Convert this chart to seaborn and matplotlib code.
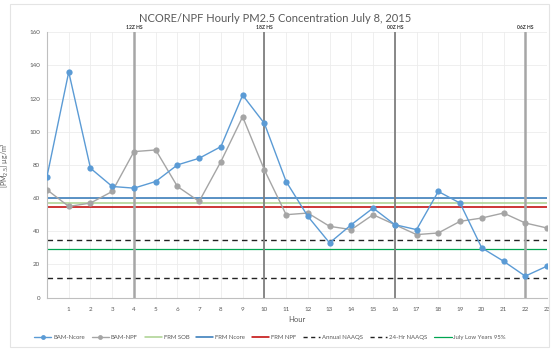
import matplotlib
matplotlib.use("Agg")
import matplotlib.pyplot as plt
from matplotlib.lines import Line2D
from matplotlib.patches import Rectangle
import seaborn as sns
import pandas as pd

# Hourly data, July 8 2015
hours = list(range(24))
bam_ncore = [73, 136, 78, 67, 66, 70, 80, 84, 91, 122, 105, 70,
             49, 33, 44, 54, 44, 41, 64, 57, 30, 22, 13, 19]
bam_npf = [65, 55, 57, 64, 88, 89, 67, 58, 82, 109, 77, 50,
           51, 43, 41, 50, 44, 38, 39, 46, 48, 51, 45, 42]

# Reference levels
frm_sob = 57.2
frm_ncore = 60.0
frm_npf = 54.5
annual_naaqs = 12
naaqs_24hr = 35
july_low_95 = 29.2

# Sounding times
sounding_hours = [4, 10, 16, 22]
sounding_labels = ["12Z HS", "18Z HS", "00Z HS", "06Z HS"]

title = "NCORE/NPF Hourly PM2.5 Concentration July 8, 2015"

sns.set_style("white")
plt.rcParams["font.family"] = ["Lato", "DejaVu Sans"]

fig = plt.figure(figsize=(5.51, 3.49), dpi=100)
ax = fig.add_axes([0.0853, 0.147, 0.9074, 0.761])

fig.patches.append(Rectangle((10 / 551, 2 / 349), 539 / 551, 343 / 349,
                             transform=fig.transFigure, fill=False,
                             edgecolor="#e4e4e4", linewidth=0.8))

ax.set_xlim(0, 23)
ax.set_ylim(0, 160)
ax.set_xticks(hours)
ax.set_xticklabels([""] + [str(h) for h in hours[1:]])
ax.set_yticks(range(0, 161, 20))
ax.grid(True, color="#ececec", linewidth=0.6)
ax.set_axisbelow(True)
for s in ["top", "right"]:
    ax.spines[s].set_visible(False)
for s in ["left", "bottom"]:
    ax.spines[s].set_color("#bfbfbf")
    ax.spines[s].set_linewidth(0.8)
ax.tick_params(axis="both", length=0, labelsize=4.5, colors="#595959", pad=5)
ax.tick_params(axis="x", pad=7)

# Horizontal reference lines
ax.axhline(frm_ncore, color="#2E75B6", lw=1.1)
ax.axhline(frm_sob, color="#A9D18E", lw=1.1)
ax.axhline(frm_npf, color="#C00000", lw=1.1)
ax.axhline(naaqs_24hr, color="#222222", lw=1.0, ls=(0, (4, 3)))
ax.axhline(annual_naaqs, color="#222222", lw=1.0, ls=(0, (4, 3)))
ax.axhline(july_low_95, color="#00A550", lw=0.9)

# Sounding markers
for h, lab in zip(sounding_hours, sounding_labels):
    c = "#a6a6a6" if h in (4, 22) else "#7f7f7f"
    lw = 1.8 if h in (4, 22) else 1.3
    ax.axvline(h, color=c, lw=lw, zorder=2)
    ax.text(h, 161.5, lab, ha="center", va="bottom", fontsize=3.6,
            color="#333333", fontweight="bold")

df = pd.DataFrame({"Hour": hours, "BAM-Ncore": bam_ncore, "BAM-NPF": bam_npf})
sns.lineplot(data=df, x="Hour", y="BAM-NPF", ax=ax, color="#A5A5A5", lw=1.0,
             marker="o", markersize=4.5, markeredgewidth=0, zorder=3)
sns.lineplot(data=df, x="Hour", y="BAM-Ncore", ax=ax, color="#5B9BD5", lw=1.0,
             marker="o", markersize=4.5, markeredgewidth=0, zorder=4)

ax.set_xlabel("Hour", fontsize=5.5, color="#595959", labelpad=0)
ax.set_ylabel("[PM$_{2.5}$] µg/m³", fontsize=5, color="#595959")
ax.yaxis.set_label_coords(-0.072, 0.5)
ax.xaxis.set_label_coords(0.5, -0.07)
fig.text(0.5, 0.948, title, ha="center", va="center", fontsize=8, color="#595959")

handles = [
    Line2D([], [], color="#5B9BD5", lw=1.0, marker="o", markersize=3.5, markeredgewidth=0),
    Line2D([], [], color="#A5A5A5", lw=1.0, marker="o", markersize=3.5, markeredgewidth=0),
    Line2D([], [], color="#A9D18E", lw=1.1),
    Line2D([], [], color="#2E75B6", lw=1.1),
    Line2D([], [], color="#C00000", lw=1.1),
    Line2D([], [], color="#222222", lw=1.0, ls=(0, (3, 2.5))),
    Line2D([], [], color="#222222", lw=1.0, ls=(0, (3, 2.5))),
    Line2D([], [], color="#00A550", lw=0.9),
]
labels = ["BAM-Ncore", "BAM-NPF", "FRM SOB", "FRM Ncore", "FRM NPF",
          "Annual NAAQS", "24-Hr NAAQS", "July Low Years 95%"]
leg = fig.legend(handles, labels, loc="center", bbox_to_anchor=(0.49, 0.034),
                 ncol=8, frameon=False, fontsize=4.3, handlelength=2.9,
                 handletextpad=0.3, columnspacing=1.15)
for t in leg.get_texts():
    t.set_color("#595959")

fig.savefig("out.png", dpi=100)
